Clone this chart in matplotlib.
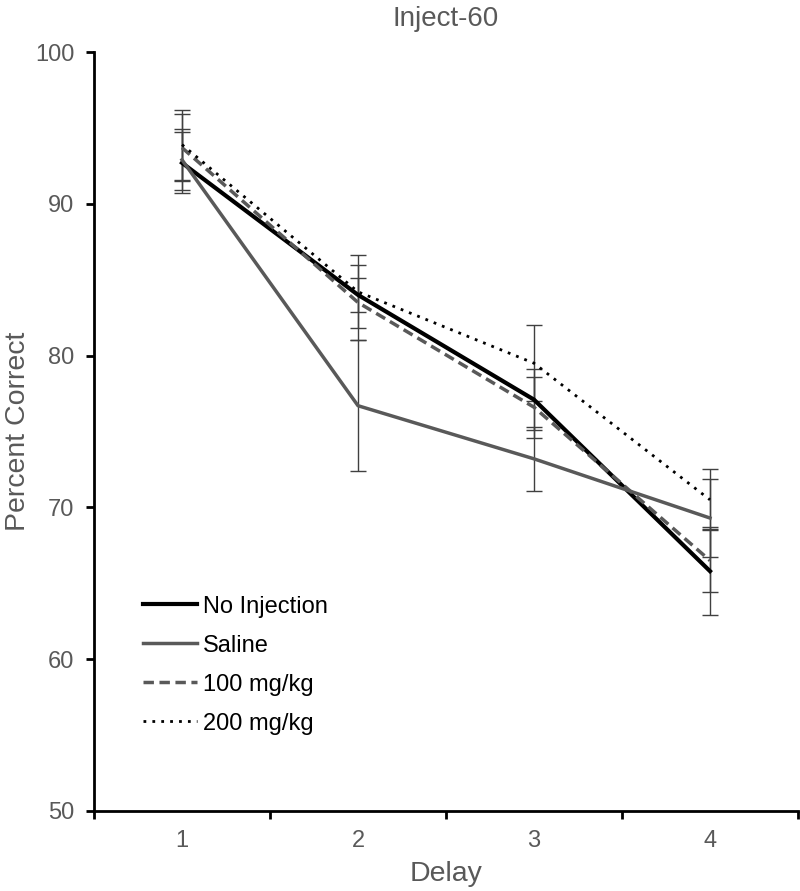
import matplotlib.pyplot as plt
import numpy as np

delay = [1, 2, 3, 4]

# mean percent correct per group
no_inj = [92.7, 84.0, 77.1, 65.8]
saline = [92.9, 76.7, 73.2, 69.3]
mg100 = [93.7, 83.5, 76.6, 66.5]
mg200 = [93.9, 84.2, 79.5, 70.5]

# error bar half-widths
no_inj_err = [2.0, 1.1, 2.0, 2.9]
saline_err = [2.0, 4.3, 2.1, 2.6]
mg100_err = [2.2, 2.5, 2.0, 2.1]
mg200_err = [2.3, 2.4, 2.5, 2.0]

plt.rcParams['font.family'] = ['Liberation Sans', 'DejaVu Sans']

fig = plt.figure(figsize=(8, 8.91), dpi=100)
ax = fig.add_axes([0.1175, 0.0898, 0.88, 0.8518])

grey = '#595959'
errc = '#404040'

series = [
    (no_inj, no_inj_err, 'No Injection', 'black', '-', 3.0),
    (saline, saline_err, 'Saline', grey, '-', 2.5),
    (mg100, mg100_err, '100 mg/kg', grey, (0, (3, 1.6)), 2.5),
    (mg200, mg200_err, '200 mg/kg', 'black', (0, (1, 2.2)), 2.0),
]

for vals, err, lab, col, ls, lw in series:
    ax.errorbar(delay, vals, yerr=err, fmt='none', ecolor=errc, elinewidth=1,
                capsize=6, capthick=1, zorder=1)
for vals, err, lab, col, ls, lw in series:
    ax.plot(delay, vals, color=col, linestyle=ls, linewidth=lw, label=lab, zorder=2)

ax.set_xlim(0.5, 4.5)
ax.set_ylim(50, 100)
ax.set_yticks(np.arange(50, 101, 10))
ax.set_xticks(delay)
ax.set_xticks([0.5, 1.5, 2.5, 3.5, 4.5], minor=True)
ax.tick_params(axis='x', which='major', length=0, pad=14, labelsize=17, labelcolor=grey)
ax.tick_params(axis='x', which='minor', length=6, width=2, direction='out', color='black')
ax.tick_params(axis='y', which='major', length=6, width=2, direction='out', pad=8,
               labelsize=17, labelcolor=grey)

for s in ['top', 'right']:
    ax.spines[s].set_visible(False)
ax.spines['left'].set_linewidth(2)
ax.spines['bottom'].set_linewidth(2)

ax.set_xlabel('Delay', fontsize=20.5, color=grey, labelpad=6)
ax.set_ylabel('Percent Correct', fontsize=20.5, color=grey)
ax.yaxis.set_label_coords(-0.09, 0.5)
ax.set_title('Inject-60', fontsize=20, color=grey, pad=19)

ax.legend(loc='lower left', bbox_to_anchor=(0.056, 0.088), frameon=False, fontsize=17,
          handlelength=2.3, handletextpad=0.25, labelspacing=0.72, borderaxespad=0)

fig.savefig('out.png', dpi=100)
